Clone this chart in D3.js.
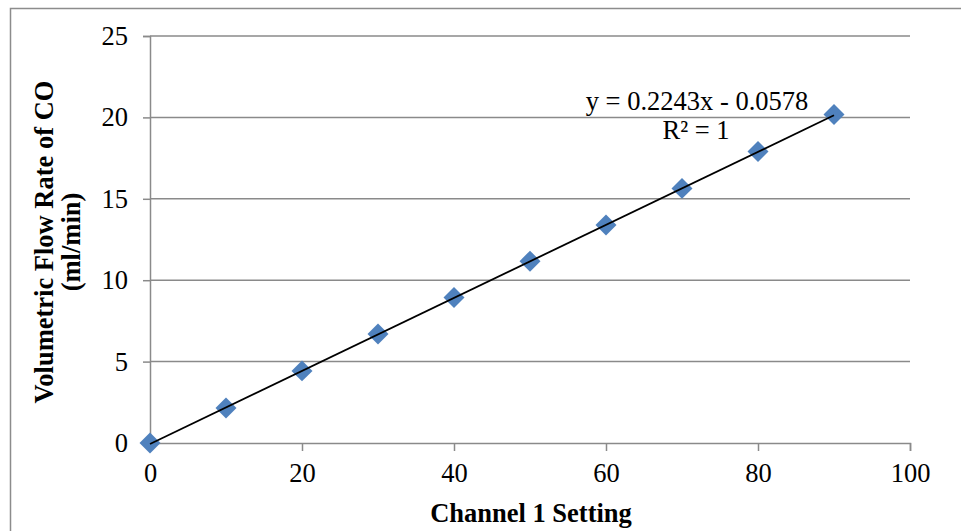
<!DOCTYPE html>
<html>
<head>
<meta charset="utf-8">
<script src="https://cdn.jsdelivr.net/npm/d3@7"></script>
<style>
  html, body { margin: 0; padding: 0; background: #fff; }
  svg { display: block; }
  text { font-family: "Liberation Serif", "Times New Roman", serif; fill: #000; }
</style>
</head>
<body>
<svg id="chart" width="961" height="531"></svg>
<script>
// Channel 1 setting vs. measured CO flow rate
const settings = [0, 10, 20, 30, 40, 50, 60, 70, 80, 90];
const flowRates = [0, 2.15, 4.43, 6.70, 8.94, 11.17, 13.39, 15.64, 17.91, 20.18];
const xTicks = [0, 20, 40, 60, 80, 100];
const yTicks = [0, 5, 10, 15, 20, 25];
// Linear trendline coefficients
const slope = 0.2243;
const intercept = -0.0578;
const rSquared = 1;

const svg = d3.select("#chart");
const plot = { left: 150, right: 910, top: 36, bottom: 443 };
const fontSize = "26.5px";

// Outer chart frame
svg.append("rect")
  .attr("x", 10.5).attr("y", 8.5)
  .attr("width", 960).attr("height", 540)
  .attr("fill", "none").attr("stroke", "#8c8c8c").attr("stroke-width", 1.5);

const x = d3.scaleLinear().domain([0, 100]).range([plot.left, plot.right]);
const y = d3.scaleLinear().domain([0, 25]).range([plot.bottom, plot.top]);

const gridColor = "#8a8a8a";

// Horizontal gridlines
svg.append("g").selectAll("line").data(yTicks.filter(d => d > 0)).join("line")
  .attr("x1", plot.left).attr("x2", plot.right)
  .attr("y1", d => y(d)).attr("y2", d => y(d))
  .attr("stroke", gridColor).attr("stroke-width", 1.5);

// Y axis
const yAxis = svg.append("g")
  .attr("transform", `translate(${plot.left},0)`)
  .call(d3.axisLeft(y).tickValues(yTicks).tickSize(7).tickPadding(15).tickFormat(d3.format("d")));
yAxis.select(".domain").attr("stroke", gridColor).attr("stroke-width", 1.5);
yAxis.selectAll(".tick line").attr("stroke", gridColor).attr("stroke-width", 1.5);
yAxis.selectAll(".tick text")
  .style("font-family", "Liberation Serif, serif").style("font-size", fontSize).attr("fill", "#000");

// X axis
const xAxis = svg.append("g")
  .attr("transform", `translate(0,${plot.bottom})`)
  .call(d3.axisBottom(x).tickValues(xTicks).tickSize(8).tickFormat(d3.format("d")));
xAxis.select(".domain").attr("stroke", gridColor).attr("stroke-width", 1.5);
xAxis.selectAll(".tick line").attr("stroke", gridColor).attr("stroke-width", 1.5);
xAxis.selectAll(".tick text")
  .attr("y", 39).attr("dy", null)
  .style("font-family", "Liberation Serif, serif").style("font-size", fontSize).attr("fill", "#000");

// Markers (diamonds)
svg.append("g").selectAll("path").data(settings).join("path")
  .attr("d", d3.symbol().type(d3.symbolSquare).size(220))
  .attr("transform", (d, i) => `translate(${x(d)},${y(flowRates[i])}) rotate(45)`)
  .attr("fill", "#4f81bd");

// Trendline
const xMin = d3.min(settings), xMax = d3.max(settings);
svg.append("line")
  .attr("x1", x(xMin)).attr("y1", y(slope * xMin + intercept))
  .attr("x2", x(xMax)).attr("y2", y(slope * xMax + intercept))
  .attr("stroke", "#000").attr("stroke-width", 1.8);

// Trendline equation
svg.append("text")
  .attr("x", 697).attr("y", 110).attr("text-anchor", "middle")
  .style("font-size", fontSize)
  .text(`y = ${slope}x - ${Math.abs(intercept)}`);
svg.append("text")
  .attr("x", 696).attr("y", 139).attr("text-anchor", "middle")
  .style("font-size", fontSize)
  .text(`R² = ${rSquared}`);

// Axis titles
svg.append("text")
  .attr("x", 531).attr("y", 522).attr("text-anchor", "middle")
  .style("font-size", fontSize).style("font-weight", "bold")
  .text("Channel 1 Setting");

const yTitle = svg.append("text")
  .attr("transform", "translate(53,242) rotate(-90)")
  .attr("text-anchor", "middle")
  .style("font-size", fontSize).style("font-weight", "bold");
yTitle.append("tspan").attr("x", 0).attr("dy", 0).text("Volumetric Flow Rate of CO");
yTitle.append("tspan").attr("x", 0).attr("dy", 27).text("(ml/min)");
</script>
</body>
</html>
